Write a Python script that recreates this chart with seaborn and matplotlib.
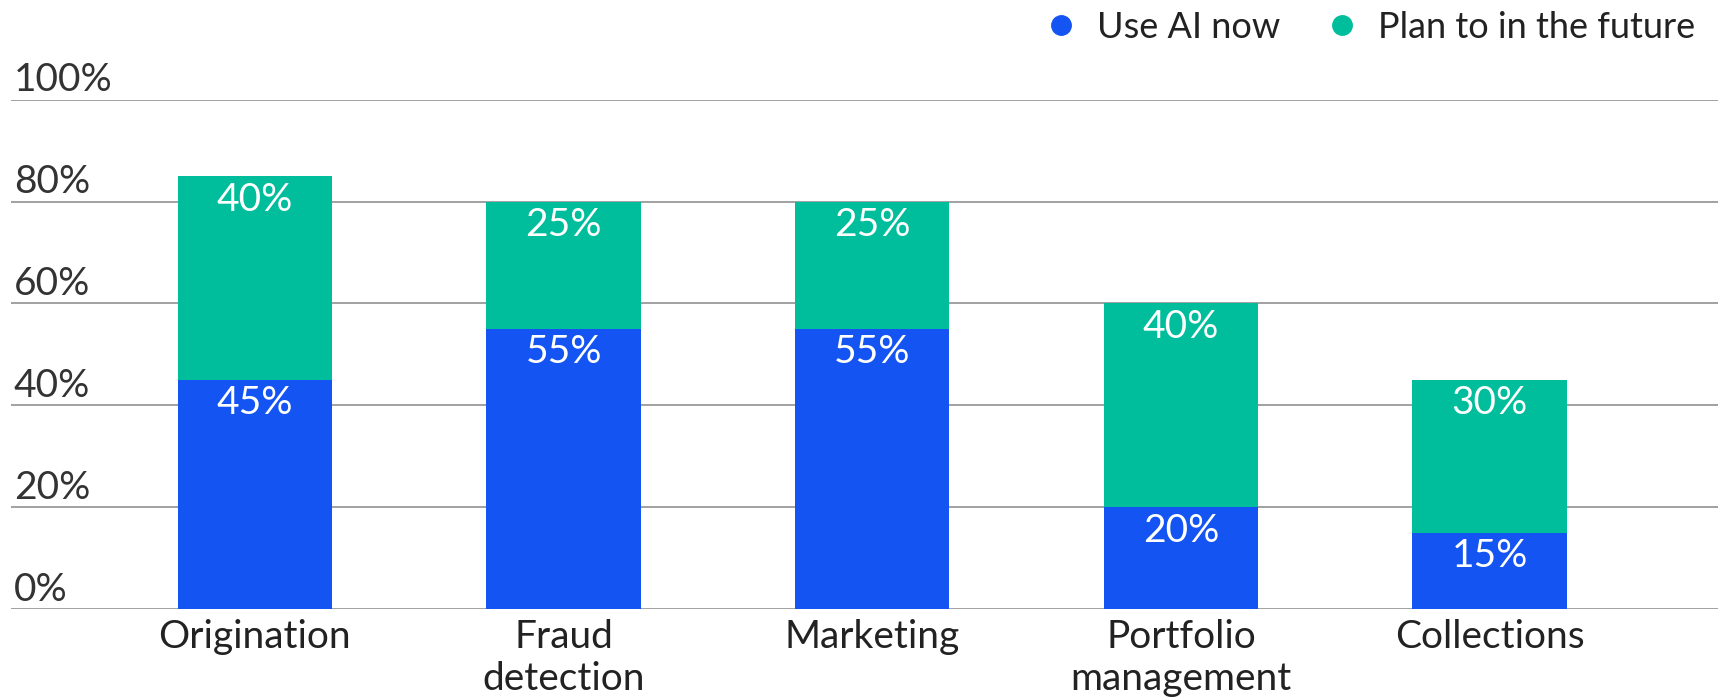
import matplotlib
matplotlib.use("Agg")
import matplotlib.pyplot as plt
import matplotlib.transforms as mtransforms
from matplotlib.lines import Line2D
import seaborn as sns
import pandas as pd

categories = ["Origination", "Fraud\ndetection", "Marketing", "Portfolio\nmanagement", "Collections"]
use_now = [45, 55, 55, 20, 15]
plan_future = [40, 25, 25, 40, 30]
yticks = [0, 20, 40, 60, 80, 100]
ytick_labels = ["0%", "20%", "40%", "60%", "80%", "100%"]
series_names = ["Use AI now", "Plan to in the future"]

BLUE = "#1454F2"
TEAL = "#00BE9B"
FS = 28

sns.set_theme(style="white")
plt.rcParams["font.family"] = ["Lato", "DejaVu Sans"]

totals = [u + p for u, p in zip(use_now, plan_future)]
df = pd.DataFrame({"cat": categories, "use": use_now, "total": totals})

fig = plt.figure(figsize=(17.18, 6.97), dpi=100)
ax = fig.add_axes([11 / 1718, 1 - 609 / 697, 1 - 11 / 1718, (609 - 99.7) / 697])

sns.barplot(data=df, x="cat", y="total", color=TEAL, width=0.5, ax=ax,
            saturation=1, zorder=3, linewidth=0)
sns.barplot(data=df, x="cat", y="use", color=BLUE, width=0.5, ax=ax,
            saturation=1, zorder=4, linewidth=0)

ax.set_ylim(0, 100)
ax.set_xlim(-0.79, 4.74)
ax.set_yticks(yticks)
ax.set_yticklabels(ytick_labels)
ax.yaxis.grid(True, color="#9a9a9a", linewidth=1.3, zorder=0)
ax.set_axisbelow(True)
for s in ax.spines.values():
    s.set_visible(False)
ax.set_xlabel("")
ax.set_ylabel("")

ax.tick_params(axis="y", length=0, pad=-2, labelsize=FS, labelcolor="#333333")
off = mtransforms.ScaledTranslation(0, 1 / 72, fig.dpi_scale_trans)
for lab in ax.get_yticklabels():
    lab.set_horizontalalignment("left")
    lab.set_verticalalignment("bottom")
    lab.set_transform(lab.get_transform() + off)

ax.tick_params(axis="x", length=0, pad=7, labelsize=FS, labelcolor="#222222")
for lab in ax.get_xticklabels():
    lab.set_linespacing(1.2)
    lab.set_verticalalignment("top")

for i in range(len(categories)):
    ax.annotate(f"{plan_future[i]}%", (i, totals[i]), xytext=(0, -17),
                textcoords="offset points", ha="center", va="center",
                color="white", fontsize=FS, zorder=6)
    ax.annotate(f"{use_now[i]}%", (i, use_now[i]), xytext=(0, -17),
                textcoords="offset points", ha="center", va="center",
                color="white", fontsize=FS, zorder=6)

handles = [Line2D([], [], marker="o", linestyle="", markersize=14,
                  markerfacecolor=c, markeredgecolor=c) for c in (BLUE, TEAL)]
fig.legend(handles, series_names, loc="center right",
           bbox_to_anchor=(1695 / 1718, 1 - 27 / 697), ncol=2, frameon=False,
           fontsize=26, handlelength=0.8, handletextpad=0.6, columnspacing=1.3,
           borderpad=0, borderaxespad=0, labelcolor="#222222")

fig.savefig("out.png", dpi=100)
